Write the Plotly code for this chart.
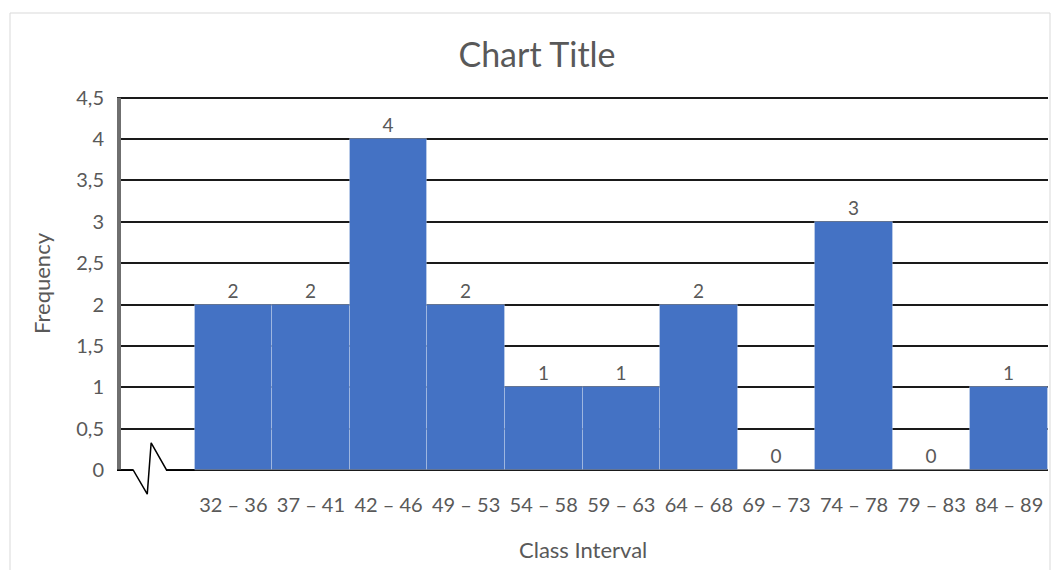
import plotly.graph_objects as go

# ---- data ----
categories = ["32 – 36", "37 – 41", "42 – 46", "49 – 53", "54 – 58", "59 – 63",
              "64 – 68", "69 – 73", "74 – 78", "79 – 83", "84 – 89"]
frequencies = [2, 2, 4, 2, 1, 1, 2, 0, 3, 0, 1]
y_tickvals = [0, 0.5, 1, 1.5, 2, 2.5, 3, 3.5, 4, 4.5]
y_ticktext = ["0", "0,5", "1", "1,5", "2", "2,5", "3", "3,5", "4", "4,5"]

# axis-break decoration (in data units of the empty first slot)
break_x = [-0.5, -0.29, -0.11, -0.06, 0.14, 0.5]
break_y = [0, 0, -0.29, 0.33, 0, 0]

GREY = "#595959"
FONT = "Lato"

W, H = 1052, 570
L, R, T, B = 117, 4, 96, 75

x_pos = list(range(1, len(categories) + 1))

fig = go.Figure()

fig.add_trace(go.Bar(
    x=x_pos, y=frequencies, width=1.0,
    marker=dict(color="#4472C4", line=dict(color="rgba(255,255,255,0.25)", width=1)),
    text=[str(v) for v in frequencies], textposition="outside",
    textfont=dict(color=GREY, size=19, family=FONT),
    cliponaxis=False, hoverinfo="skip", showlegend=False,
))

# left axis line (from 0 to top)
fig.add_trace(go.Scatter(
    x=[-0.5, -0.5], y=[0, 4.5], mode="lines",
    line=dict(color="#6f6f6f", width=8), hoverinfo="skip", showlegend=False,
))
# white gap in baseline for axis break
fig.add_trace(go.Scatter(
    x=[break_x[1], break_x[4]], y=[0, 0], mode="lines",
    line=dict(color="white", width=4), hoverinfo="skip", showlegend=False,
))
# zigzag
fig.add_trace(go.Scatter(
    x=break_x, y=break_y, mode="lines",
    line=dict(color="black", width=1.5), hoverinfo="skip", showlegend=False,
))

plot_w = W - L - R
plot_h = H - T - B

def px_x(p):
    return (p - L) / plot_w

def px_y(p):
    return (H - B - p) / plot_h

# chart border (light grey)
fig.add_shape(type="rect", xref="paper", yref="paper",
              x0=px_x(10), x1=px_x(1050), y0=px_y(575), y1=px_y(13),
              line=dict(color="#d9d9d9", width=1), layer="below")

# axis titles
fig.add_annotation(text="Frequency", xref="paper", yref="paper",
                   x=px_x(41), y=px_y(283), xanchor="center", yanchor="middle",
                   textangle=-90, showarrow=False,
                   font=dict(size=22, color=GREY, family=FONT))
fig.add_annotation(text="Class Interval", xref="paper", yref="paper",
                   x=px_x(583), y=px_y(549), xanchor="center", yanchor="middle",
                   showarrow=False,
                   font=dict(size=22, color=GREY, family=FONT))

fig.update_layout(
    width=W, height=H,
    margin=dict(l=L, r=R, t=T, b=B, autoexpand=False),
    paper_bgcolor="white", plot_bgcolor="white",
    bargap=0,
    title=dict(text="Chart Title", x=537 / W, xanchor="center",
               y=1 - 55 / H, yanchor="middle", yref="container",
               font=dict(size=34, color=GREY, family=FONT)),
    font=dict(family=FONT, color=GREY),
    xaxis=dict(
        range=[-0.5, 11.5], tickvals=x_pos, ticktext=categories,
        tickfont=dict(size=20, color=GREY, family=FONT), tickangle=0,
        showgrid=False, zeroline=False, showline=False, ticks="",
        ticklabelstandoff=-4,
    ),
    yaxis=dict(
        range=[-0.3, 4.52], tickvals=y_tickvals, ticktext=y_ticktext,
        tickfont=dict(size=20, color=GREY, family=FONT),
        showgrid=True, gridcolor="#1a1a1a", gridwidth=2,
        zeroline=False, showline=False, ticks="", ticklabelstandoff=12,
    ),
)

fig.write_html("out.html")
